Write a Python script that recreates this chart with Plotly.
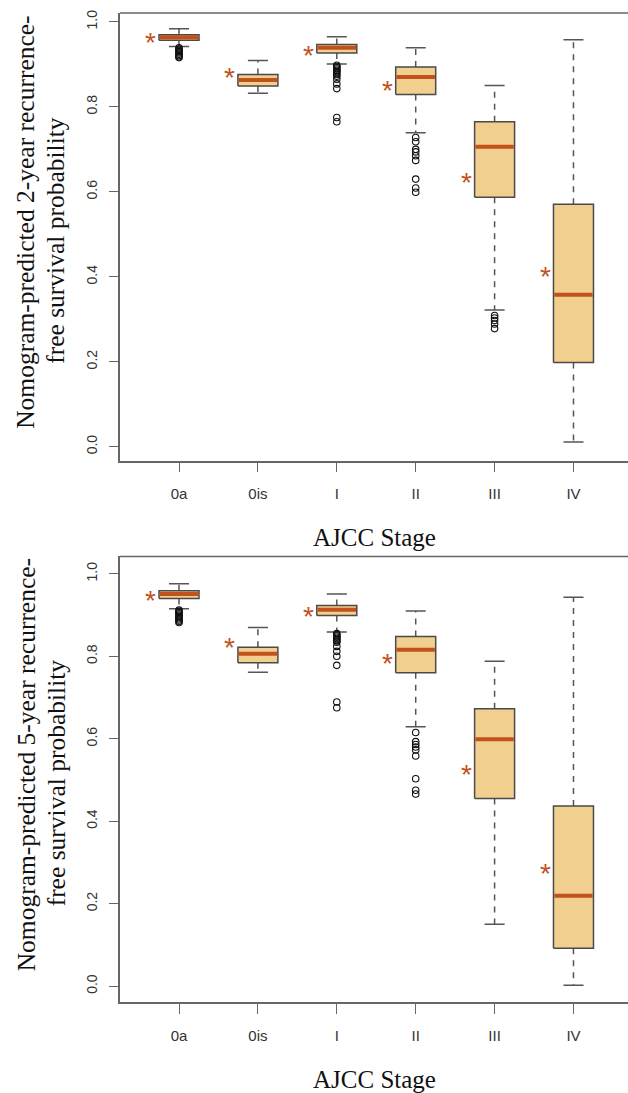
import plotly.graph_objects as go

stages = ["0a", "0is", "I", "II", "III", "IV"]
positions = [1, 2, 3, 4, 5, 6]

# ---- 2-year panel ----
lower_2y = [0.942, 0.832, 0.901, 0.739, 0.322, 0.011]
q1_2y = [0.957, 0.849, 0.927, 0.829, 0.587, 0.198]
median_2y = [0.964, 0.863, 0.939, 0.870, 0.706, 0.358]
q3_2y = [0.970, 0.876, 0.947, 0.894, 0.765, 0.571]
upper_2y = [0.984, 0.909, 0.965, 0.939, 0.850, 0.958]
observed_2y = [0.962, 0.878, 0.931, 0.849, 0.632, 0.411]
outliers_2y = [
    [0.939, 0.936, 0.933, 0.930, 0.927, 0.924, 0.921, 0.918, 0.916],
    [],
    [0.898, 0.895, 0.892, 0.889, 0.886, 0.883, 0.880, 0.876, 0.872, 0.865, 0.854, 0.843, 0.775, 0.765],
    [0.728, 0.718, 0.700, 0.694, 0.685, 0.674, 0.630, 0.609, 0.599],
    [0.309, 0.303, 0.297, 0.289, 0.278],
    [],
]

# ---- 5-year panel ----
lower_5y = [0.915, 0.761, 0.859, 0.629, 0.150, 0.002]
q1_5y = [0.940, 0.784, 0.899, 0.760, 0.455, 0.092]
median_5y = [0.951, 0.806, 0.913, 0.816, 0.599, 0.219]
q3_5y = [0.959, 0.822, 0.923, 0.848, 0.673, 0.437]
upper_5y = [0.976, 0.870, 0.951, 0.910, 0.788, 0.943]
observed_5y = [0.945, 0.832, 0.907, 0.792, 0.522, 0.283]
outliers_5y = [
    [0.912, 0.909, 0.906, 0.903, 0.900, 0.897, 0.894, 0.891, 0.888, 0.885, 0.882],
    [],
    [0.855, 0.852, 0.849, 0.846, 0.843, 0.840, 0.837, 0.834, 0.824, 0.812, 0.800, 0.778, 0.689, 0.675],
    [0.615, 0.593, 0.586, 0.580, 0.573, 0.558, 0.503, 0.475, 0.466],
    [],
    [],
]

y_title_lines = [
    ["Nomogram-predicted 2-year recurrence-", "free survival probability"],
    ["Nomogram-predicted 5-year recurrence-", "free survival probability"],
]
x_title = "AJCC Stage"

# style
BOX_FILL = "#F1CF8E"
BOX_LINE = "#4a4a4a"
MEDIAN = "#C2511C"
WHISK = "#555555"
AXIS = "#666666"
HALF_W = 0.2535
CAP_W = 0.127
STAR_DX = 0.36

fig = go.Figure()


def add_panel(xa, ya, lower, q1, med, q3, upper, obs, outs):
    # whiskers (dashed)
    wx, wy = [], []
    for p, lo, a, b, hi in zip(positions, lower, q1, q3, upper):
        wx += [p, p, None, p, p, None]
        wy += [b, hi, None, a, lo, None]
    fig.add_trace(go.Scatter(x=wx, y=wy, mode="lines", xaxis=xa, yaxis=ya,
                             line=dict(color=WHISK, width=1.5, dash="6px,6px"),
                             hoverinfo="skip", showlegend=False))
    # caps
    cx, cy = [], []
    for p, lo, hi in zip(positions, lower, upper):
        cx += [p - CAP_W, p + CAP_W, None, p - CAP_W, p + CAP_W, None]
        cy += [hi, hi, None, lo, lo, None]
    fig.add_trace(go.Scatter(x=cx, y=cy, mode="lines", xaxis=xa, yaxis=ya,
                             line=dict(color=WHISK, width=1.5),
                             hoverinfo="skip", showlegend=False))
    # boxes
    for p, a, b in zip(positions, q1, q3):
        fig.add_trace(go.Scatter(
            x=[p - HALF_W, p + HALF_W, p + HALF_W, p - HALF_W, p - HALF_W],
            y=[a, a, b, b, a], mode="lines", fill="toself",
            fillcolor=BOX_FILL, xaxis=xa, yaxis=ya,
            line=dict(color=BOX_LINE, width=1.5),
            hoverinfo="skip", showlegend=False))
    # medians
    mx, my = [], []
    for p, m in zip(positions, med):
        mx += [p - HALF_W + 0.01, p + HALF_W - 0.01, None]
        my += [m, m, None]
    fig.add_trace(go.Scatter(x=mx, y=my, mode="lines", xaxis=xa, yaxis=ya,
                             line=dict(color=MEDIAN, width=4),
                             hoverinfo="skip", showlegend=False))
    # outliers
    ox, oy = [], []
    for p, vals in zip(positions, outs):
        ox += [p] * len(vals)
        oy += vals
    fig.add_trace(go.Scatter(x=ox, y=oy, mode="markers", xaxis=xa, yaxis=ya,
                             marker=dict(symbol="circle-open", size=6.5,
                                         color="#111111", line=dict(width=1.1)),
                             hoverinfo="skip", showlegend=False))
    # observed (asterisks)
    for p, v in zip(positions, obs):
        fig.add_annotation(x=p - STAR_DX, y=v, xref=xa, yref=ya, text="*",
                           showarrow=False, xanchor="center", yanchor="middle",
                           yshift=-4,
                           font=dict(family="Liberation Sans", size=28,
                                     color=MEDIAN))


add_panel("x", "y", lower_2y, q1_2y, median_2y, q3_2y, upper_2y, observed_2y, outliers_2y)
add_panel("x2", "y2", lower_5y, q1_5y, median_5y, q3_5y, upper_5y, observed_5y, outliers_5y)

H = 1093.0
xtickfont = dict(family="Liberation Sans", size=15, color="#333333")
ytickfont = dict(family="Liberation Sans", size=14, color="#333333")

xcommon = dict(range=[0.252, 6.691], tickmode="array", tickvals=positions,
               ticktext=stages, ticks="outside", ticklen=10, tickwidth=1.3,
               tickcolor=AXIS, showline=True, linecolor=AXIS, linewidth=1.5,
               showgrid=False, zeroline=False, tickfont=xtickfont,
               ticklabelstandoff=9)
ycommon = dict(tickmode="array", tickvals=[0, 0.2, 0.4, 0.6, 0.8, 1.0],
               ticktext=["0.0", "0.2", "0.4", "0.6", "0.8", "1.0"],
               ticks="outside", ticklen=9, tickwidth=1.3, tickcolor=AXIS,
               showline=True, linecolor=AXIS, linewidth=1.5, showgrid=False,
               zeroline=False, tickfont=ytickfont, tickangle=-90,
               ticklabelstandoff=7)

fig.update_layout(
    width=628, height=1093,
    margin=dict(l=120, r=0, t=0, b=0),
    paper_bgcolor="white", plot_bgcolor="white",
    xaxis=dict(domain=[0, 1], anchor="y", **xcommon),
    yaxis=dict(domain=[1 - 459 / H, 1 - 10 / H], anchor="x",
               range=[-0.033, 1.021], **ycommon),
    xaxis2=dict(domain=[0, 1], anchor="y2", **xcommon),
    yaxis2=dict(domain=[1 - 1002 / H, 1 - 555 / H], anchor="x2",
                range=[-0.039, 1.042], **ycommon),
)

# top border line of each panel
for xr, yr in [("x domain", "y domain"), ("x2 domain", "y2 domain")]:
    fig.add_shape(type="line", xref=xr, yref=yr, x0=0, x1=1, y0=1, y1=1,
                  line=dict(color=AXIS, width=1.5))

serif = dict(family="Liberation Serif", size=25, color="#111111")
ytitle_font = dict(family="Liberation Serif", size=25.5, color="#111111")
for i, (xr, yr) in enumerate([("x domain", "y domain"), ("x2 domain", "y2 domain")]):
    fig.add_annotation(text=x_title, xref=xr, yref=yr, x=0.5, y=0,
                       xanchor="center", yanchor="middle", yshift=-77,
                       showarrow=False, font=serif)
    line1, line2 = y_title_lines[i]
    fig.add_annotation(text=line1, xref=xr, yref=yr, x=0, y=0.5,
                       xanchor="center", yanchor="middle", xshift=-94,
                       yshift=14, textangle=-90, showarrow=False,
                       font=ytitle_font)
    fig.add_annotation(text=line2, xref=xr, yref=yr, x=0, y=0.5,
                       xanchor="center", yanchor="middle", xshift=-64,
                       yshift=-4, textangle=-90, showarrow=False,
                       font=ytitle_font)

fig.write_html(
    "out.html",
    config={"displayModeBar": False},
    post_script="document.body.style.margin='0';document.body.style.overflow='hidden';",
)
